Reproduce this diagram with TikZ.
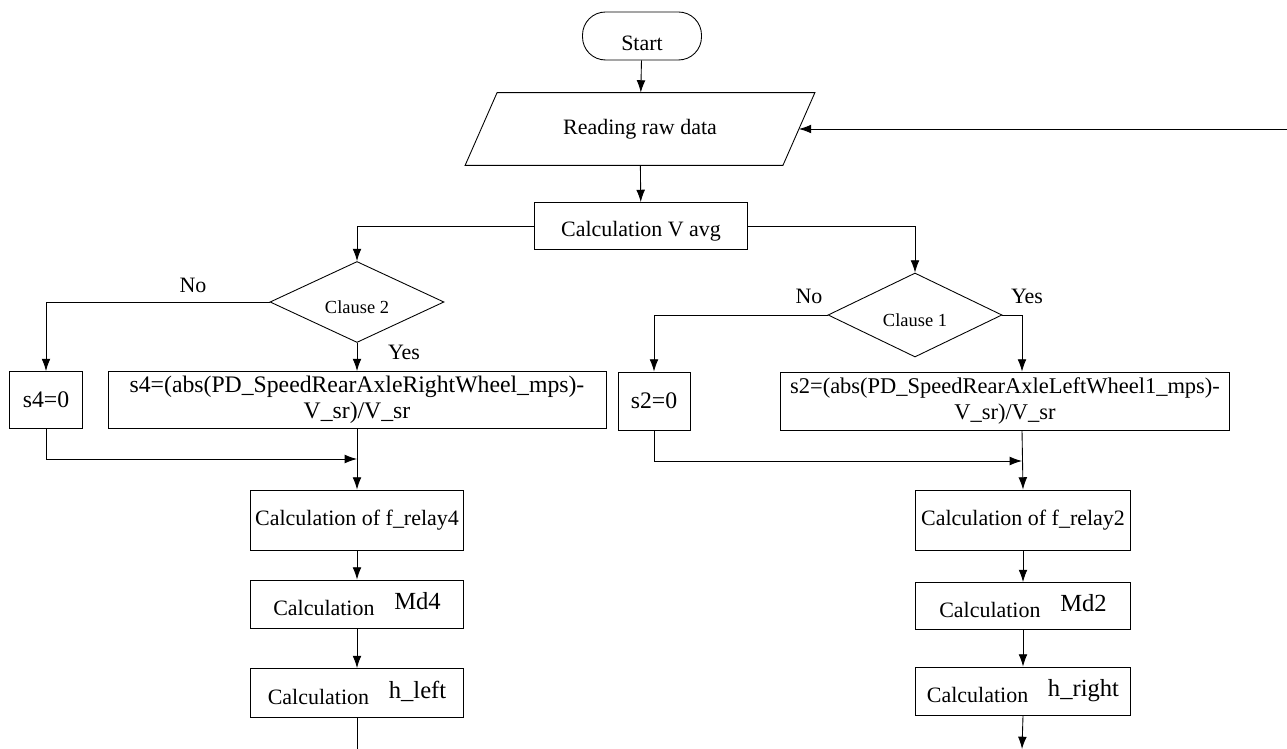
\documentclass[tikz,border=0pt]{standalone}
\usepackage{fontspec}
\setmainfont{Liberation Serif}
\usetikzlibrary{shapes.geometric,arrows.meta,calc}

\tikzset{
    box/.style={draw, rectangle, align=center, inner sep=2pt, font=\fontsize{12.5}{14}\selectfont},
    decision/.style={draw, diamond, inner sep=0pt, font=\fontsize{10.5}{12}\selectfont},
    arr/.style={-{Latex[length=7pt,width=5pt]}},
    yesno/.style={font=\fontsize{12.5}{14}\selectfont}
}

\begin{document}
\begin{tikzpicture}[x=0.02cm, y=-0.02cm, line width=0.5pt]
    \def\calc#1{Calculation\hspace{0.9em}\raisebox{3pt}{\fontsize{14}{16}\selectfont #1}}
    \def\low#1#2{\raisebox{#1}[0pt][0pt]{#2}}

    \useasboundingbox (0,0) rectangle (1287,749);

    \node[box, rounded corners=0.46cm, minimum width=2.38cm, minimum height=0.96cm] (start) at (642,36) {\low{-8pt}{Start}};
    \node[minimum width=6.34cm, minimum height=1.44cm, font=\fontsize{12.5}{14}\selectfont] (read) at (640,129) {Reading raw data};
    \draw ($(read.north west)+(16,0)$) -- ($(read.north east)+(16,0)$) -- ($(read.south east)+(-16,0)$) -- ($(read.south west)+(-16,0)$) -- cycle;
    \node[box, minimum width=4.26cm, minimum height=0.94cm] (vavg) at (641,226) {\low{-6pt}{Calculation V avg}};

    \node[decision, minimum width=3.48cm, minimum height=1.62cm] (clause2) at (357,302) {\low{-6.5pt}{Clause 2}};
    \node[decision, minimum width=3.48cm, minimum height=1.68cm] (clause1) at (915,315) {\low{-6.5pt}{Clause 1}};

    \node[box, minimum width=1.46cm, minimum height=1.14cm, font=\fontsize{13.5}{15}\selectfont] (szero4) at (46,400) {s4=0};
    \node[box, minimum width=9.96cm, minimum height=1.14cm, font=\fontsize{13.5}{15}\selectfont] (sfour) at (357,400) {s4=(abs(PD\_SpeedRearAxleRightWheel\_mps)-\\V\_sr)/V\_sr};
    \node[box, minimum width=1.44cm, minimum height=1.16cm, font=\fontsize{13.5}{15}\selectfont] (szero2) at (654,401) {s2=0};
    \node[box, minimum width=8.98cm, minimum height=1.16cm, font=\fontsize{12.8}{15}\selectfont] (stwo) at (1005,401) {s2=(abs(PD\_SpeedRearAxleLeftWheel1\_mps)-\\V\_sr)/V\_sr};

    \node[box, minimum width=4.26cm, minimum height=1.2cm] (relay4) at (357,520) {Calculation of f\_relay4};
    \node[box, minimum width=4.26cm, minimum height=0.96cm] (md4) at (357,604) {\calc{Md4}};
    \node[box, minimum width=4.26cm, minimum height=0.98cm] (hleft) at (357,693) {\calc{h\_left}};

    \node[box, minimum width=4.3cm, minimum height=1.2cm] (relay2) at (1023,520) {Calculation of f\_relay2};
    \node[box, minimum width=4.3cm, minimum height=0.94cm] (md2) at (1023,606) {\calc{Md2}};
    \node[box, minimum width=4.3cm, minimum height=0.96cm] (hright) at (1023,691) {\calc{h\_right}};

    \coordinate (loopin) at (1287,129);
    \coordinate (j4) at (357,459);
    \coordinate (j2) at (1022,461);
    \coordinate (out4) at (357,749);
    \coordinate (out2) at (1022,749);

    \node[yesno] (no2) at (193,285) {No};
    \node[yesno] (yes2) at (404,352) {Yes};
    \node[yesno] (no1) at (809,296) {No};
    \node[yesno] (yes1) at (1027,296) {Yes};

    \draw[arr] (start) -- (read);
    \draw[arr] (loopin) -- (read.east);
    \draw[arr] (read) -- (vavg);
    \draw[arr] (vavg.west) -| (clause2.north);
    \draw[arr] (vavg.east) -| (clause1.north);

    \draw[arr] (clause2.west) -| (szero4.north);
    \draw[arr] (clause2.south) -- (sfour.north);
    \draw[arr] (szero4.south) |- (j4);
    \draw[arr] (sfour.south) -- (relay4.north);
    \draw[arr] (relay4) -- (md4);
    \draw[arr] (md4) -- (hleft);
    \draw (hleft.south) -- (out4);

    \draw[arr] (clause1.west) -| (szero2.north);
    \draw[arr] (clause1.east) -| (j2 |- stwo.north);
    \draw[arr] (szero2.south) |- (j2);
    \draw[arr] (j2 |- stwo.south) -- (relay2.north);
    \draw[arr] (relay2) -- (md2);
    \draw[arr] (md2) -- (hright);
    \draw[arr] (hright.south) -- (out2);
\end{tikzpicture}
\end{document}
